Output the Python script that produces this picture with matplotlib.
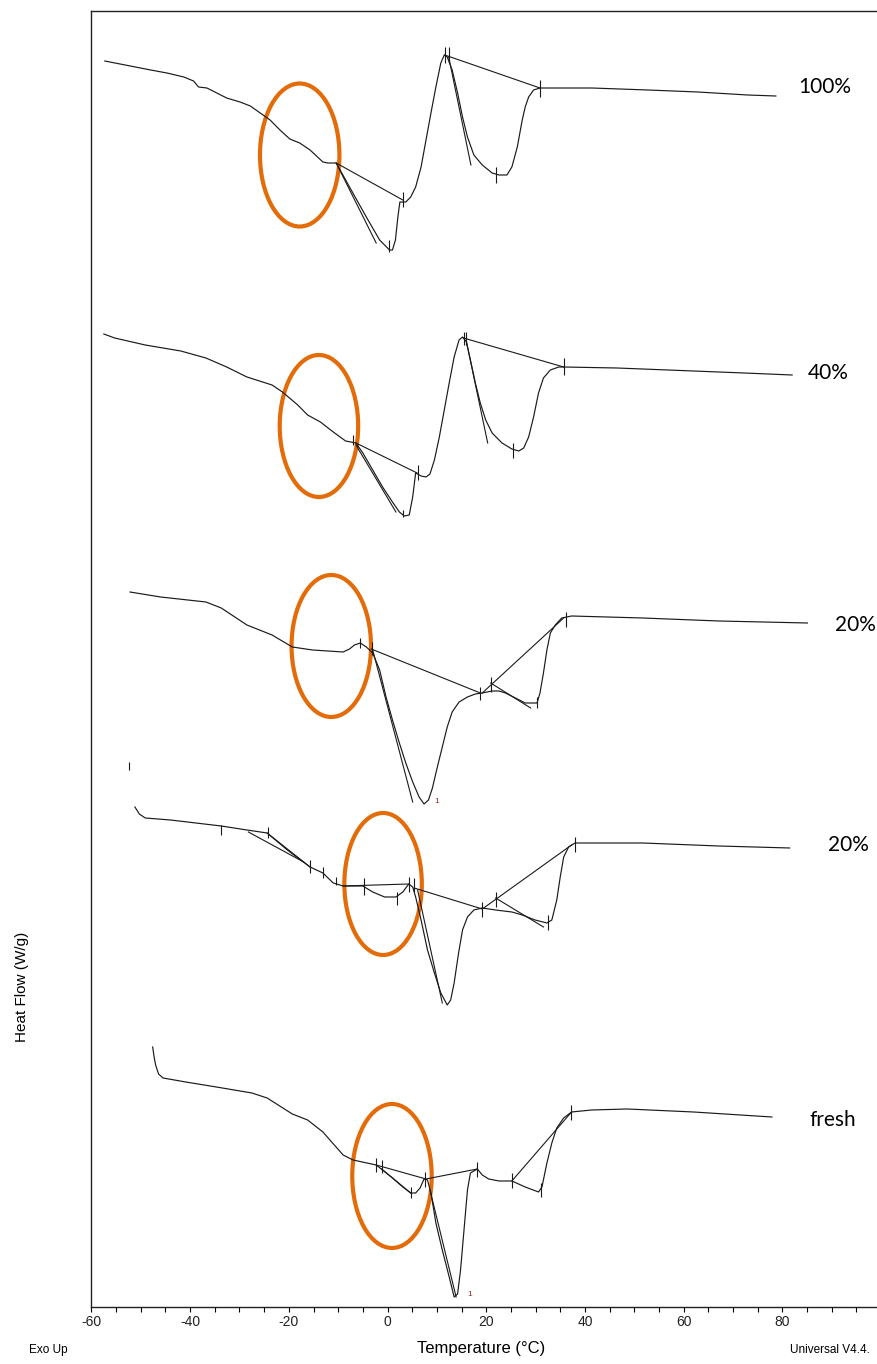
import matplotlib.pyplot as plt
from matplotlib.patches import Ellipse
import numpy as np

# ---- data: temperature (degC) and stacked heat flow (arbitrary offset units) ----
t_100 = [-57.3, -48.0, -44.7, -41.3, -39.3, -38.3, -36.6, -34.6, -32.6, -29.9, -27.8,
         -25.8, -23.8, -21.8, -19.8, -17.8, -15.7, -13.1, -12.1, -10.4, -7.7, -4.3,
         -1.6, 0.4, 1.0, 1.6, 2.1, 2.5, 3.7, 4.7, 5.7, 6.8, 7.8, 8.8, 9.8, 10.8, 11.5,
         12.1, 13.1, 14.2, 15.2, 16.2, 17.5, 19.2, 21.2, 22.6, 24.2, 25.2, 26.3, 27.3,
         27.9, 28.6, 29.6, 30.9, 41.4, 52.8, 62.9, 73.0, 78.7]
hf_100 = [124.6, 123.7, 123.4, 123.0, 122.6, 122.0, 121.9, 121.4, 120.9, 120.5, 120.1,
          119.4, 118.7, 117.7, 116.8, 116.4, 115.7, 114.5, 114.4, 114.4, 112.0, 109.0,
          106.7, 105.7, 105.7, 106.7, 109.0, 110.5, 110.5, 111.0, 112.0, 114.0, 116.7,
          119.4, 122.0, 124.4, 125.2, 125.0, 123.7, 121.4, 119.0, 117.0, 115.2, 114.2,
          113.4, 113.2, 113.2, 114.0, 116.0, 118.7, 120.0, 121.0, 121.7, 121.9, 121.9,
          121.7, 121.5, 121.2, 121.1]

t_40 = [-57.5, -55.3, -49.1, -41.9, -36.8, -32.6, -28.5, -23.4, -21.3, -18.2, -16.2,
        -13.6, -11.0, -8.5, -6.4, -5.0, -3.0, -1.0, 1.0, 2.4, 3.4, 4.4, 5.1, 5.7, 6.8,
        7.8, 8.6, 9.5, 10.5, 11.5, 12.5, 13.5, 14.5, 15.2, 16.0, 16.8, 17.8, 18.8,
        19.9, 21.2, 23.2, 25.2, 26.6, 27.6, 28.6, 29.6, 30.6, 31.6, 33.0, 34.7, 35.7,
        46.5, 62.0, 72.3, 82.0]
hf_40 = [97.3, 96.9, 96.2, 95.6, 94.9, 94.0, 93.0, 92.2, 91.5, 90.2, 89.2, 88.5, 87.5,
         86.6, 86.4, 85.4, 83.7, 82.0, 80.5, 79.5, 79.1, 79.2, 81.0, 83.4, 83.1, 83.0,
         83.3, 84.7, 87.0, 89.7, 92.4, 95.0, 96.7, 97.0, 96.5, 94.7, 92.4, 90.4, 88.7,
         87.4, 86.4, 85.8, 85.6, 85.9, 87.0, 89.0, 91.4, 92.9, 93.7, 94.0, 94.0, 93.9,
         93.6, 93.4, 93.2]

t_20a = [-52.2, -46.0, -36.8, -33.7, -28.5, -23.4, -19.3, -15.2, -9.0, -7.7, -6.7, -5.5,
         -4.3, -3.0, -1.6, -0.3, 1.0, 2.4, 3.7, 5.1, 6.4, 7.4, 8.3, 9.1, 10.1, 11.1, 12.1,
         13.1, 14.5, 16.2, 17.8, 19.2, 21.2, 22.6, 23.9, 25.9, 27.9, 30.3, 30.9, 31.6,
         32.3, 33.0, 34.0, 35.3, 37.3, 51.7, 67.1, 85.1]
hf_20a = [71.5, 71.0, 70.5, 69.9, 68.2, 67.2, 66.0, 65.7, 65.5, 65.8, 66.2, 66.4, 66.0,
          65.4, 63.7, 61.0, 58.7, 56.4, 54.4, 52.5, 51.0, 50.3, 50.7, 51.9, 54.0, 56.0,
          58.0, 59.5, 60.5, 61.0, 61.3, 61.4, 61.6, 61.6, 61.4, 60.9, 60.4, 60.4, 61.4,
          63.4, 65.7, 67.4, 68.2, 68.9, 69.1, 68.9, 68.6, 68.4]

t_20b = [-51.2, -50.3, -49.1, -44.0, -33.7, -28.5, -24.4, -20.3, -15.7, -13.1, -11.0,
         -9.0, -5.0, -3.0, -0.6, 1.7, 3.1, 4.3, 5.1, 5.7, 6.8, 8.1, 9.5, 10.8, 12.1, 12.8,
         13.5, 14.4, 15.2, 16.2, 17.5, 19.2, 21.9, 25.2, 27.3, 29.9, 32.3, 33.3, 34.3,
         35.0, 35.7, 36.7, 38.0, 41.4, 51.7, 67.1, 81.5]
hf_20b = [50.0, 49.3, 48.9, 48.7, 48.1, 47.7, 47.4, 45.7, 44.0, 43.4, 42.4, 42.1, 42.1,
          41.5, 41.0, 41.0, 41.5, 42.3, 42.0, 41.0, 38.7, 35.7, 33.4, 31.4, 30.2, 30.7,
          32.4, 35.4, 37.7, 39.0, 39.7, 39.9, 39.7, 39.5, 39.2, 38.7, 38.4, 38.7, 40.7,
          43.0, 45.0, 46.0, 46.4, 46.4, 46.4, 46.1, 45.9]

t_fresh = [-47.6, -47.3, -47.0, -46.4, -45.5, -40.9, -34.7, -27.5, -24.4, -19.3, -16.2,
           -13.1, -9.0, -7.0, -2.3, -1.0, 1.0, 3.1, 4.7, 5.7, 6.6, 7.4, 8.1, 8.8, 9.8,
           11.1, 12.5, 13.5, 14.2, 14.8, 15.5, 16.2, 16.8, 18.2, 19.2, 20.5, 22.6, 25.2,
           27.9, 30.6, 31.3, 32.3, 33.3, 34.3, 35.7, 37.3, 41.4, 48.6, 62.0, 77.9]
hf_fresh = [26.0, 25.0, 24.2, 23.3, 22.9, 22.5, 22.0, 21.4, 20.9, 19.3, 18.7, 17.5, 15.2,
            14.7, 14.2, 13.7, 12.9, 12.0, 11.4, 11.4, 11.9, 12.8, 12.7, 11.4, 8.4, 5.7,
            3.0, 1.0, 1.3, 3.7, 7.7, 11.7, 13.4, 13.8, 13.2, 12.8, 12.6, 12.6, 12.0,
            11.5, 12.0, 14.4, 16.4, 17.9, 18.9, 19.5, 19.7, 19.8, 19.5, 19.0]

# analysis construction lines (baselines / tangents): [T0, hf0, T1, hf1]
lines_100 = [[-10.4, 114.4, 3.1, 110.7], [-10.4, 114.4, -2.3, 106.4],
             [11.6, 125.2, 30.9, 121.9], [12.4, 125.0, 16.9, 114.2]]
lines_40 = [[-6.4, 86.4, 6.0, 83.4], [-6.4, 86.2, 1.7, 79.5],
            [15.4, 96.9, 35.7, 94.0], [16.0, 96.5, 20.3, 86.4]]
lines_20a = [[-3.3, 65.8, 18.8, 61.4], [-3.0, 65.7, 5.1, 50.5],
             [19.2, 61.4, 35.7, 68.9], [20.9, 62.4, 29.0, 59.9]]
lines_20b = [[-24.4, 47.4, -15.7, 44.0], [-28.2, 47.5, -17.0, 44.5],
             [-9.0, 42.1, 4.4, 42.3], [5.4, 41.9, 19.2, 39.8],
             [19.2, 39.8, 37.3, 46.2], [21.9, 40.9, 31.6, 38.0],
             [6.1, 41.7, 11.1, 30.4]]
lines_fresh = [[-2.3, 14.2, 7.8, 12.8], [7.8, 12.8, 18.2, 13.8],
               [-1.2, 13.8, 4.7, 11.4], [8.6, 11.7, 13.9, 1.0],
               [25.2, 12.6, 37.3, 19.5]]

# event markers (short vertical ticks): [T, hf_top, hf_bottom]
marks_100 = [[3.1, 111.5, 110.0], [0.2, 106.7, 105.5], [11.6, 126.0, 124.4],
             [12.5, 126.0, 124.4], [22.0, 114.0, 112.4], [30.9, 122.7, 121.0]]
marks_40 = [[-7.0, 87.2, 86.2], [6.2, 84.2, 82.7], [3.2, 79.7, 79.0],
            [15.4, 97.5, 96.2], [16.0, 97.5, 96.2], [25.5, 86.4, 84.9],
            [35.7, 94.9, 93.2]]
marks_20a = [[-5.5, 66.9, 65.9], [-3.2, 66.5, 65.2], [18.8, 62.0, 60.7],
             [21.0, 63.0, 61.5], [30.3, 61.0, 59.9], [36.1, 69.5, 68.0],
             [-52.4, 54.5, 53.7]]
marks_20b = [[-33.7, 48.2, 47.2], [-24.2, 48.0, 46.9], [-15.7, 44.7, 43.4],
             [-13.1, 44.0, 42.9], [-10.5, 43.0, 42.2], [-4.8, 42.9, 41.2],
             [1.9, 41.5, 40.2], [4.3, 43.0, 41.5], [5.4, 42.9, 41.5],
             [19.2, 40.5, 39.0], [22.0, 41.5, 40.0], [32.6, 39.2, 37.7],
             [37.9, 47.0, 45.5]]
marks_fresh = [[-2.4, 14.9, 13.5], [-1.1, 14.7, 13.4], [4.7, 12.0, 10.9],
               [7.6, 13.5, 12.0], [18.2, 14.5, 13.0], [25.2, 13.4, 11.9],
               [31.2, 12.4, 11.0], [37.2, 20.2, 18.7]]

# highlighted glass-transition regions: [T centre, hf centre, width degC, height]
circles = [[-17.8, 115.2, 16.1, 14.3], [-13.9, 88.1, 15.9, 14.2],
           [-11.4, 66.1, 16.1, 14.2], [-0.9, 42.3, 15.7, 14.2],
           [0.9, 13.1, 16.1, 14.4]]

curve_labels = ['100%', '40%', '20%', '20%', 'fresh']
label_pos = [[88.6, 122.0], [89.3, 93.4], [94.8, 68.2], [93.4, 46.2], [90.2, 18.7]]

curves = [(t_100, hf_100, lines_100, marks_100),
          (t_40, hf_40, lines_40, marks_40),
          (t_20a, hf_20a, lines_20a, marks_20a),
          (t_20b, hf_20b, lines_20b, marks_20b),
          (t_fresh, hf_fresh, lines_fresh, marks_fresh)]

plt.rcParams['font.family'] = ['Liberation Sans', 'DejaVu Sans']
plt.rcParams['axes.unicode_minus'] = False

fig = plt.figure(figsize=(8.77, 13.64), dpi=100)
ax = fig.add_axes([0.1043, 0.0418, 0.8957, 0.9505])
line_col = '#1a1a1a'

for t, hf, segs, marks in curves:
    ax.plot(t, hf, color=line_col, lw=0.85)
    for s in segs:
        ax.plot([s[0], s[2]], [s[1], s[3]], color=line_col, lw=0.8)
    marks = np.array(marks)
    ax.vlines(marks[:, 0], marks[:, 2], marks[:, 1], color=line_col, lw=0.8)

# peak numbers drawn by the analysis software
ax.text(9.5, 50.5, '1', color='#8b2a2a', fontsize=6, ha='left', va='center')
ax.text(16.2, 1.2, '1', color='#8b2a2a', fontsize=6, ha='left', va='center')

for cx, cy, w, h in circles:
    ax.add_patch(Ellipse((cx, cy), w, h, fill=False, edgecolor='#E36C09', lw=3))

for lab, (lx, ly) in zip(curve_labels, label_pos):
    ax.text(lx, ly, lab, fontsize=15, family=['Lato', 'DejaVu Sans'],
            ha='center', va='center', color='black')

ax.set_xlim(-59.15, 99.2)
ax.set_ylim(0, 129.65)
ax.set_xticks(np.arange(-60, 81, 20))
ax.set_xticks(np.arange(-55, 96, 5), minor=True)
ax.tick_params(axis='x', which='major', length=3.5, width=0.8, pad=2,
               labelsize=10, labelcolor='#222222')
ax.tick_params(axis='x', which='minor', length=3.5, width=0.8)
ax.set_yticks([])
ax.spines['right'].set_visible(False)
for sp in ['left', 'top', 'bottom']:
    ax.spines[sp].set_linewidth(1.0)
    ax.spines[sp].set_color('#222222')

fig.text(0.5485, 0.0117, 'Temperature (°C)', fontsize=12, ha='center', va='center')
fig.text(0.033, 0.0103, 'Exo Up', fontsize=8.5, ha='left', va='center')
fig.text(0.992, 0.0103, 'Universal V4.4.', fontsize=8.5, ha='right', va='center')
fig.text(0.025, 0.2764, 'Heat Flow (W/g)', fontsize=11, rotation=90,
         ha='center', va='center')

fig.savefig('out.png', dpi=100)
